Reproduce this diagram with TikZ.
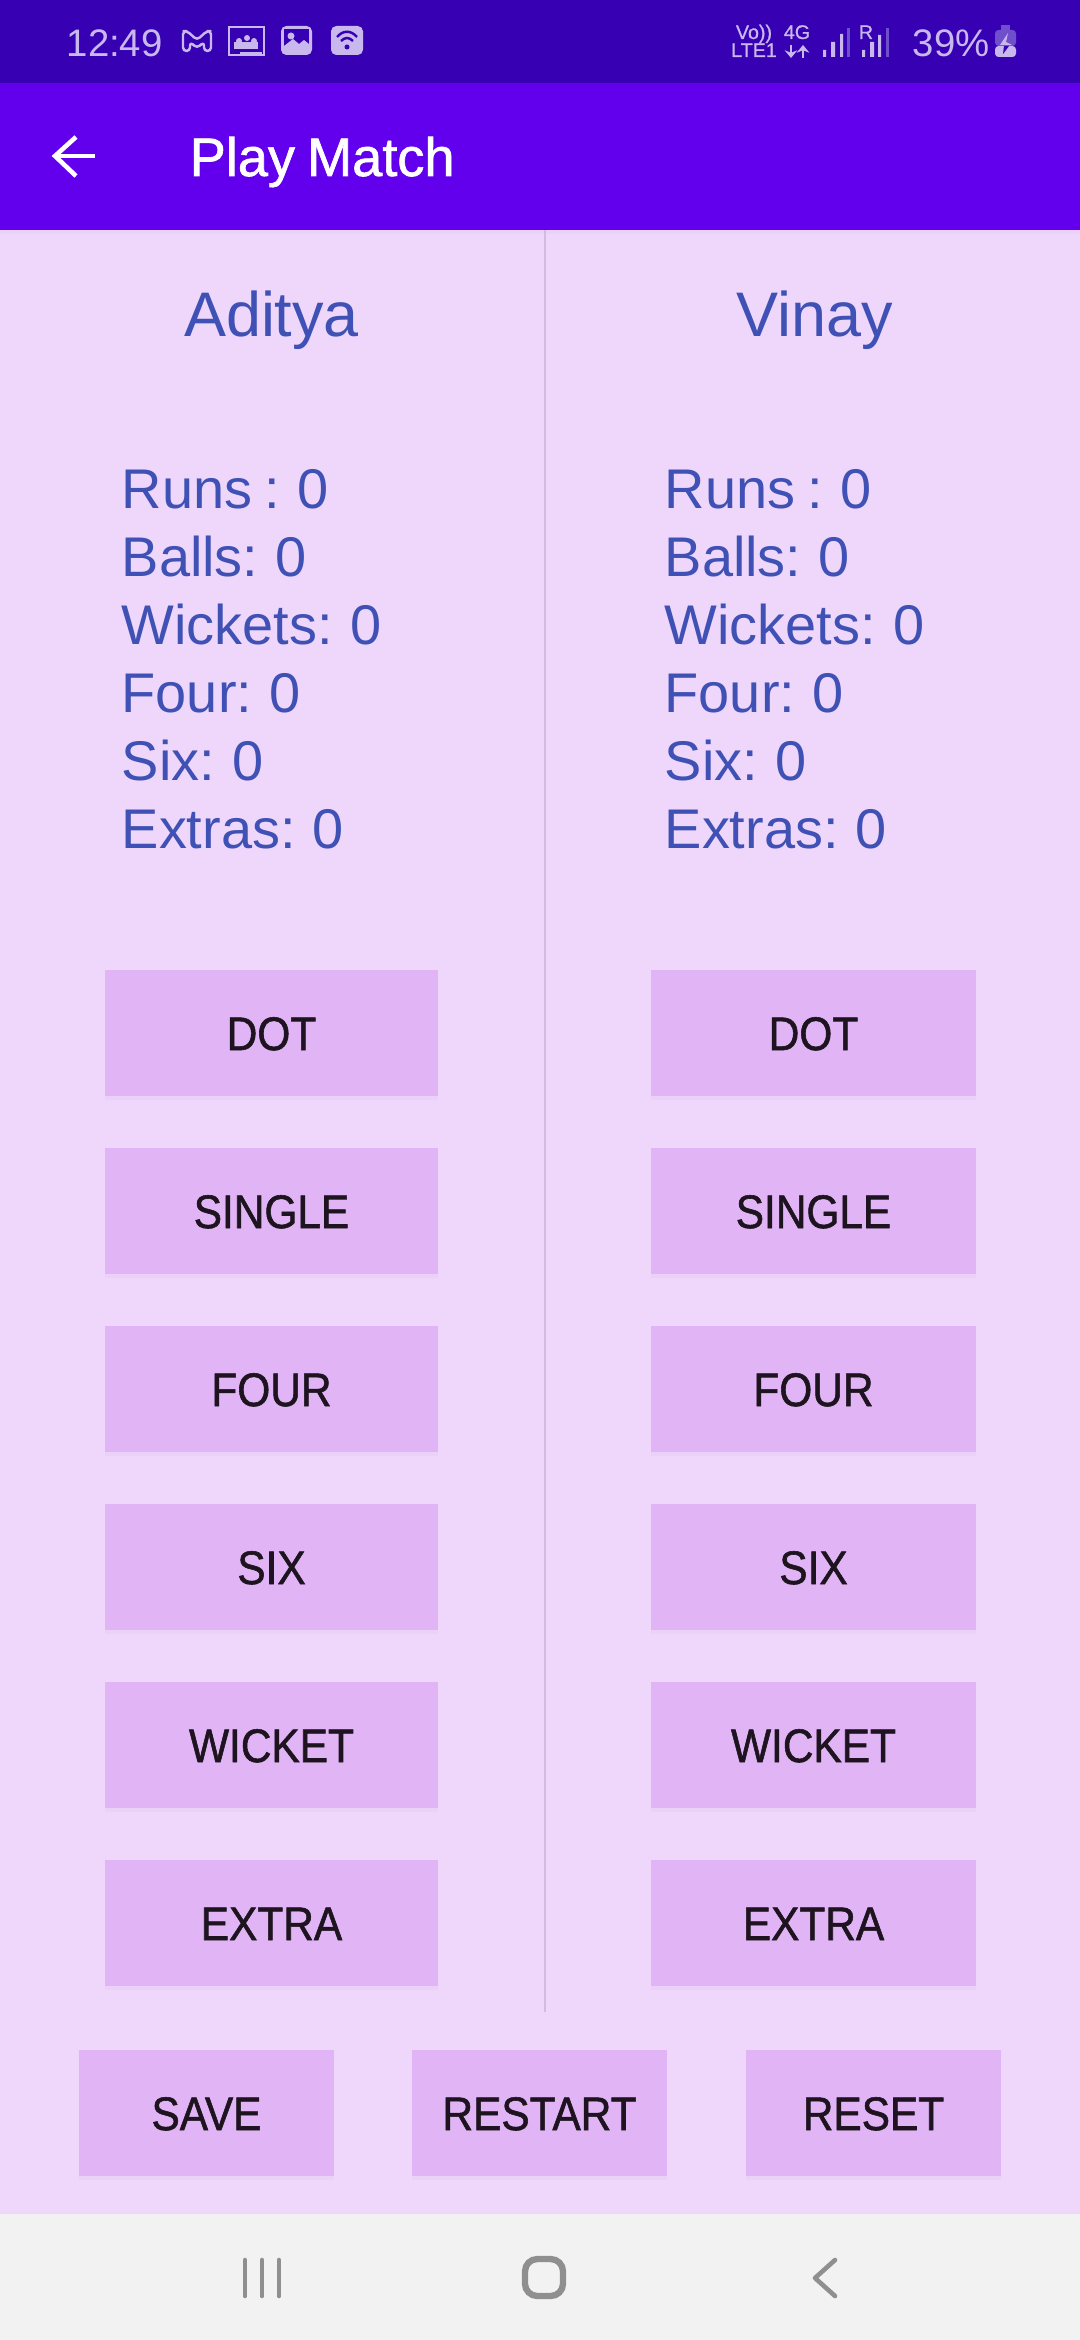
\documentclass[tikz,border=0pt]{standalone}
\usepackage{fontspec}
\setmainfont[WordSpace=0.78]{Liberation Sans}
\newfontfamily\mediumfont[FakeBold=1.2,FakeStretch=0.9]{Liberation Sans}
\newfontfamily\titlefont[FakeBold=1.2,WordSpace=0.8]{Liberation Sans}
\newfontfamily\tinyfont[FakeBold=0.8]{Liberation Sans}
\usetikzlibrary{arrows.meta,shadows}
\definecolor{statusbar}{HTML}{3700B3}
\definecolor{appbar}{HTML}{6200EE}
\definecolor{pagebg}{HTML}{EFD7FB}
\definecolor{buttonbg}{HTML}{E0B4F5}
\definecolor{buttonsh}{HTML}{EBD0F8}
\definecolor{buttontx}{HTML}{1E1420}
\definecolor{scoretx}{HTML}{3F51B5}
\definecolor{statustx}{HTML}{C9B8EE}
\definecolor{statusdim}{HTML}{6F4FCB}
\definecolor{navbg}{HTML}{F2F2F2}
\definecolor{navicon}{HTML}{8F8F8F}
\definecolor{divider}{HTML}{D3BBE0}
\begin{document}
\begin{tikzpicture}[x=0.01cm,y=-0.01cm,
    namenode/.style={font=\fontsize{17.9pt}{20pt}\selectfont, text=scoretx, inner sep=0pt, anchor=base},
    scorenode/.style={font=\fontsize{15.9pt}{18pt}\selectfont, text=scoretx, inner sep=0pt, anchor=base west},
    playbutton/.style={rectangle, fill=buttonbg, inner sep=0pt, minimum height=1.26cm,
        text=buttontx, text height=9.7pt, text depth=0pt,
        font=\mediumfont\fontsize{13.4pt}{16pt}\selectfont,
        general shadow={fill=buttonsh, shadow yshift=-0.04cm}},
    leftbutton/.style={playbutton, minimum width=3.33cm},
    rightbutton/.style={playbutton, minimum width=3.25cm},
    barbutton/.style={playbutton, minimum width=2.55cm},
    statusnode/.style={font=\fontsize{10.9pt}{14pt}\selectfont, text=statustx, inner sep=0pt, anchor=base west},
    tinynode/.style={font=\tinyfont\fontsize{5.6pt}{6pt}\selectfont, text=statustx, inner sep=0pt, anchor=base}
    ]
    \useasboundingbox (0,0) rectangle (1080,2340);
    %
    %panels
    %
    \fill[pagebg] (0,230) rectangle (1080,2214);
    \fill[buttonsh] (0,230) rectangle (1080,234);
    \fill[statusbar] (0,0) rectangle (1080,83);
    \fill[appbar] (0,83) rectangle (1080,230);
    \fill[navbg] (0,2214) rectangle (1080,2340);
    %
    %status bar
    %
    \node[statusnode] (clock) at (66,57) {12:49};
    \draw[statustx, line width=0.7pt, line join=round, rounded corners=1pt] (183,51) -- (183,31) -- (187,31) -- (197,40) -- (207,31) -- (211,31) -- (211,51) -- (204,51) -- (204,42) -- (197,48) -- (190,42) -- (190,51) -- cycle;
    \draw[statustx, line width=0.6pt] (229,27) rectangle (264,55);
    \fill[statustx] (234,42) rectangle (258,49);
    \fill[statustx] (239,41) circle (3) (247,38) circle (3) (254,41) circle (3);
    \fill[statustx] (240,52) rectangle (262,54);
    \fill[statustx, rounded corners=1.5] (281,26) rectangle (312,55);
    \fill[statusbar] (284,29) rectangle (309,48);
    \fill[statustx] (291,36) circle (3.5);
    \fill[statustx] (284,49) -- (284,46) -- (293,39) -- (299,44) -- (304,40) -- (309,44) -- (309,49) -- cycle;
    \fill[statustx, rounded corners=1.5] (331,26) rectangle (363,55);
    \draw[statusbar, line width=0.7pt] (337,37) .. controls (343,30) and (351,30) .. (357,37);
    \draw[statusbar, line width=0.7pt] (341,41) .. controls (345,37) and (349,37) .. (353,41);
    \fill[statusbar] (347,47) circle (2.5);
    \node[tinynode] (volte) at (754,39) {Vo))};
    \node[tinynode] (lteone) at (754,57) {LTE1};
    \node[tinynode] (fourg) at (797,39) {4G};
    \draw[statustx, line width=0.8pt, -{Stealth[length=2.2pt,width=3.6pt]}] (791,45) -- (791,58);
    \draw[statustx, line width=0.8pt, -{Stealth[length=2.2pt,width=3.6pt]}] (803,58) -- (803,45);
    \fill[statustx] (823,50) rectangle (826,57) (831,42) rectangle (835,57) (840,34) rectangle (843,57);
    \fill[statusdim] (847,28) rectangle (850,57);
    \node[tinynode] (roaming) at (866,39) {R};
    \fill[statustx] (862,50) rectangle (865,57) (870,42) rectangle (874,57) (878,35) rectangle (881,57);
    \fill[statusdim] (886,28) rectangle (889,57);
    \node[statusnode] (percent) at (912,57) {39\%};
    \fill[statusdim] (1001,25) rectangle (1010,30);
    \fill[statusdim, rounded corners=1] (995,30) rectangle (1016,46);
    \fill[statustx, rounded corners=1] (995,46) rectangle (1016,57);
    \fill[statustx] (1008,33) -- (1000,45) -- (1012,45) -- (1006,42) -- cycle;
    \fill[statusbar] (1004,46) -- (1009,46) -- (1003,54) -- cycle;
    %
    %title
    %
    \draw[white, line width=1.3pt] (95,156) -- (55,156);
    \draw[white, line width=1.3pt] (76,137) -- (55,156) -- (76,176);
    \node[inner sep=0pt, anchor=base west, text=white, font=\titlefont\fontsize{15.4pt}{18pt}\selectfont] (title) at (189,176) {Play Match};
    %
    %divider
    %
    \coordinate (dividertop) at (545,230);
    \coordinate (dividerend) at (545,2012);
    \draw[divider, line width=0.57pt] (dividertop) -- (dividerend);
    %
    %left player
    %
    \node[namenode] (nameL) at (271.5,337) {Aditya};
    \node[scorenode] (runsL) at (121,508.5) {Runs : 0};
    \node[scorenode] (ballsL) at (121,576.5) {Balls: 0};
    \node[scorenode] (wicketsL) at (121,644.5) {Wickets: 0};
    \node[scorenode] (fourL) at (121,712) {Four: 0};
    \node[scorenode] (sixL) at (121,780) {Six: 0};
    \node[scorenode] (extrasL) at (121,848) {Extras: 0};
    \node[leftbutton] (dotL) at (271.5,1033) {DOT};
    \node[leftbutton] (singleL) at (271.5,1211) {SINGLE};
    \node[leftbutton] (fourbtnL) at (271.5,1389) {FOUR};
    \node[leftbutton] (sixbtnL) at (271.5,1567) {SIX};
    \node[leftbutton] (wicketL) at (271.5,1745) {WICKET};
    \node[leftbutton] (extraL) at (271.5,1923) {EXTRA};
    %
    %right player
    %
    \node[namenode] (nameR) at (814.5,337) {Vinay};
    \node[scorenode] (runsR) at (664,508.5) {Runs : 0};
    \node[scorenode] (ballsR) at (664,576.5) {Balls: 0};
    \node[scorenode] (wicketsR) at (664,644.5) {Wickets: 0};
    \node[scorenode] (fourR) at (664,712) {Four: 0};
    \node[scorenode] (sixR) at (664,780) {Six: 0};
    \node[scorenode] (extrasR) at (664,848) {Extras: 0};
    \node[rightbutton] (dotR) at (813.5,1033) {DOT};
    \node[rightbutton] (singleR) at (813.5,1211) {SINGLE};
    \node[rightbutton] (fourbtnR) at (813.5,1389) {FOUR};
    \node[rightbutton] (sixbtnR) at (813.5,1567) {SIX};
    \node[rightbutton] (wicketR) at (813.5,1745) {WICKET};
    \node[rightbutton] (extraR) at (813.5,1923) {EXTRA};
    %
    %bottom row
    %
    \node[barbutton] (save) at (206.5,2113) {SAVE};
    \node[barbutton] (restart) at (539.5,2113) {RESTART};
    \node[barbutton] (reset) at (873.5,2113) {RESET};
    %
    %navigation bar
    %
    \draw[navicon, line width=1.3pt, line cap=round] (245,2260) -- (245,2296) (262,2260) -- (262,2296) (279,2260) -- (279,2296);
    \draw[navicon, line width=1.8pt, rounded corners=3.5pt] (525,2259) rectangle (563,2296);
    \draw[navicon, line width=1.3pt, line cap=round, line join=round] (835,2260) -- (815,2278) -- (835,2296);
\end{tikzpicture}
\end{document}
